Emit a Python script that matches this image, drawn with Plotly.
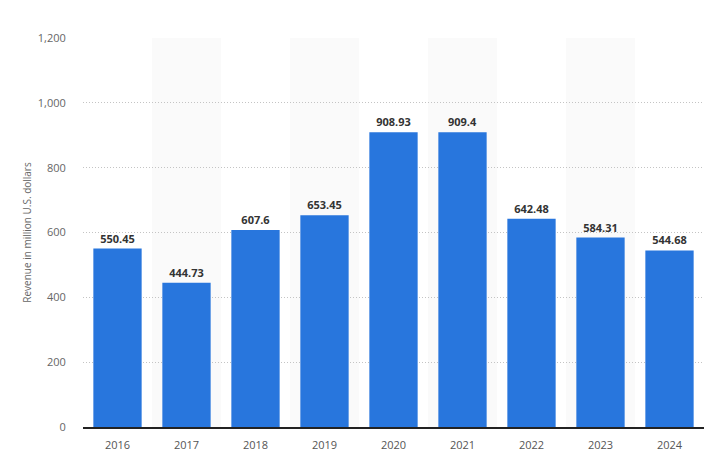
import plotly.graph_objects as go

years = ["2016", "2017", "2018", "2019", "2020", "2021", "2022", "2023", "2024"]
revenue = [550.45, 444.73, 607.6, 653.45, 908.93, 909.4, 642.48, 584.31, 544.68]
labels = ["550.45", "444.73", "607.6", "653.45", "908.93", "909.4", "642.48", "584.31", "544.68"]
y_ticks = [0, 200, 400, 600, 800, 1000, 1200]
y_tick_text = ["0", "200", "400", "600", "800", "1,000", "1,200"]

fig = go.Figure()
fig.add_trace(go.Bar(
    x=years, y=revenue, text=labels, textposition="outside",
    marker=dict(color="#2876dd", line=dict(width=0)),
    width=0.7,
    textfont=dict(family="Open Sans", size=11, color="#333333", weight="bold"),
    cliponaxis=False,
))

shapes = []
for i, _ in enumerate(years):
    if i % 2 == 1:
        shapes.append(dict(type="rect", xref="x", yref="y", x0=i - 0.5, x1=i + 0.5,
                           y0=0, y1=1200, fillcolor="#fafafa", line=dict(width=0), layer="below"))

fig.update_layout(
    width=713, height=461,
    margin=dict(l=83, r=9, t=38, b=31),
    plot_bgcolor="white", paper_bgcolor="white",
    showlegend=False,
    shapes=shapes,
    bargap=0.3,
    font=dict(family="Open Sans", color="#666666", size=11),
    xaxis=dict(
        type="category", showgrid=False, tickfont=dict(size=11, color="#555555"),
        showline=True, linecolor="#222222", linewidth=1.5,
        ticks="outside", ticklen=7, tickcolor="rgba(0,0,0,0)",
    ),
    yaxis=dict(
        range=[0, 1200], tickvals=y_ticks, ticktext=y_tick_text,
        showgrid=True, gridcolor="#c4c4c4", griddash="1px,2px", gridwidth=1,
        zeroline=False, ticks="outside", ticklen=14, tickcolor="rgba(0,0,0,0)",
        tickfont=dict(size=11, color="#666666"),
        title=dict(text="Revenue in million U.S. dollars", font=dict(size=10, color="#666666"), standoff=4),
    ),
)

fig.write_html("out.html")
